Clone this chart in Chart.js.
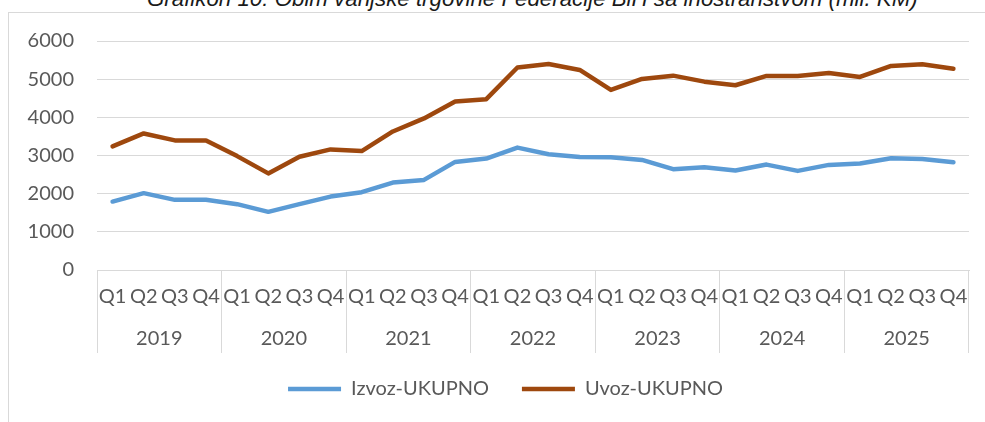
<!DOCTYPE html>
<html>
<head>
<meta charset="utf-8">
<script src="https://cdn.jsdelivr.net/npm/chart.js@4"></script>
<style>
  html, body { margin: 0; padding: 0; background: #ffffff; overflow: hidden; }
  #wrap { position: relative; width: 985px; height: 422px; overflow: hidden; }
  #frame { position: absolute; left: 8px; top: 12px; width: 1100px; height: 600px; border: 1px solid #d9d9d9; box-sizing: border-box; }
  #title { position: absolute; left: 147px; top: -12px; font-family: "Liberation Sans", Arial, sans-serif; font-style: italic; font-size: 22.3px; line-height: 22.3px; color: #1a1a1a; white-space: nowrap; }
  #c { position: absolute; left: 0; top: 0; }
</style>
</head>
<body>
<div id="wrap">
  <div id="frame"></div>
  <div id="title">Grafikon 10: Obim vanjske trgovine Federacije BiH sa inostranstvom (mil. KM)</div>
  <canvas id="c" width="985" height="422"></canvas>
</div>
<script>
const years = ['2019', '2020', '2021', '2022', '2023', '2024', '2025'];
const quarters = ['Q1', 'Q2', 'Q3', 'Q4'];
const izvoz = [1793, 2013, 1838, 1838, 1725, 1524, 1725, 1924, 2039, 2291, 2361, 2832, 2919, 3207,
               3034, 2963, 2955, 2885, 2641, 2694, 2605, 2762, 2597, 2754, 2788, 2929, 2911, 2825];
const uvoz = [3238, 3578, 3395, 3395, 2984, 2531, 2966, 3159, 3115, 3630, 3971, 4415, 4476, 5306,
              5398, 5241, 4717, 5005, 5092, 4935, 4840, 5084, 5084, 5162, 5058, 5346, 5390, 5275];
const seriesNames = ['Izvoz-UKUPNO', 'Uvoz-UKUPNO'];
const yTicks = [0, 1000, 2000, 3000, 4000, 5000, 6000];

const labels = years.flatMap(() => quarters);
const txt = '#595959';
const grid = '#d9d9d9';
const font = { family: 'Lato', size: 20 };

const legendShift = {
  id: 'legendShift',
  afterLayout(chart) {
    if (chart.legend) { chart.legend.left += 22; }
  }
};

new Chart(document.getElementById('c'), {
  type: 'line',
  data: {
    labels: labels,
    datasets: [
      { label: seriesNames[0], data: izvoz, borderColor: '#5b9bd5', backgroundColor: '#5b9bd5',
        borderWidth: 4.5, pointRadius: 0, pointStyle: 'line', borderCapStyle: 'round', borderJoinStyle: 'round', tension: 0, xAxisID: 'x' },
      { label: seriesNames[1], data: uvoz, borderColor: '#9e480e', backgroundColor: '#9e480e',
        borderWidth: 4.5, pointRadius: 0, pointStyle: 'line', borderCapStyle: 'round', borderJoinStyle: 'round', tension: 0, xAxisID: 'x' }
    ]
  },
  plugins: [legendShift],
  options: {
    responsive: false,
    animation: false,
    devicePixelRatio: 1,
    layout: { padding: { left: 20, right: 16, top: 41, bottom: 13 } },
    plugins: {
      title: { display: false },
      tooltip: { enabled: false },
      legend: {
        position: 'bottom',
        labels: { usePointStyle: true, pointStyleWidth: 53, color: txt, font: font, padding: 33 }
      }
    },
    scales: {
      y: {
        min: yTicks[0], max: yTicks[yTicks.length - 1],
        afterBuildTicks: (s) => { s.ticks = yTicks.map(v => ({ value: v })); },
        afterFit: (s) => { s.width = 77; },
        grid: { color: grid, lineWidth: 1, drawTicks: false },
        border: { display: false },
        ticks: { color: txt, font: font, padding: 23, callback: (v) => String(v) }
      },
      x: {
        type: 'category',
        position: 'bottom',
        offset: true,
        afterFit: (s) => { s.height = 40; },
        grid: {
          offset: true, drawOnChartArea: false, drawTicks: true, tickLength: 83, lineWidth: 1,
          color: (c) => (c.type !== 'tick' || c.index % quarters.length === 0) ? grid : 'rgba(0,0,0,0)'
        },
        border: { display: true, color: grid, width: 1 },
        ticks: { color: txt, font: font, padding: -68, autoSkip: false, maxRotation: 0, minRotation: 0 }
      },
      x2: {
        type: 'category',
        position: 'bottom',
        labels: years,
        offset: true,
        afterFit: (s) => { s.height = 36; },
        grid: { display: false, drawTicks: false },
        border: { display: false },
        ticks: { color: txt, font: font, padding: 17, autoSkip: false, maxRotation: 0, minRotation: 0 }
      }
    }
  }
});
</script>
</body>
</html>
